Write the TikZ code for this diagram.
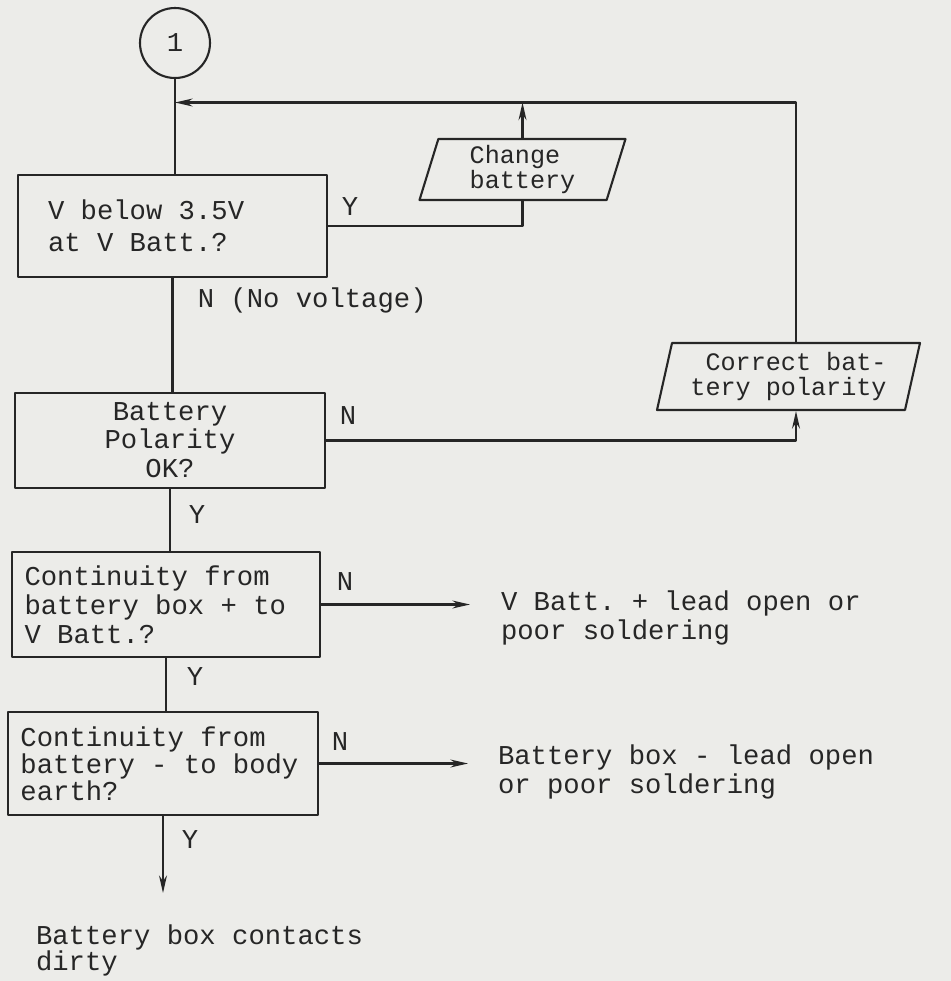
\documentclass[tikz,border=0pt]{standalone}
\usepackage{fontspec}
\setmonofont{Liberation Mono}
\usetikzlibrary{shapes.geometric,arrows.meta}
\definecolor{paper}{RGB}{236,236,233}
\definecolor{ink}{RGB}{38,38,38}

\begin{document}
\begin{tikzpicture}[x=1cm,y=1cm,line cap=round,line join=round,
  font=\ttfamily\fontsize{15.5}{17}\selectfont,line width=1.2pt,
  >={Stealth[length=10pt,width=4.5pt]},
  qbox/.style={draw=ink,rectangle,align=flush left,text=ink},
  iobox/.style={draw=ink,trapezium,trapezium stretches body,align=flush left,text=ink,inner sep=0pt,
    font=\ttfamily\fontsize{14.3}{14.6}\selectfont},
  lskip/.style={font=\ttfamily\fontsize{15.5}{#1}\selectfont},
  lbl/.style={text=ink,inner sep=1pt},
  outcome/.style={text=ink,align=flush left,anchor=west,inner sep=0pt}]
  \fill[paper] (0,0) rectangle (19.02,-19.62);
  \useasboundingbox (0,0) rectangle (19.02,-19.62);
  % connector and main decisions
  \node[draw=ink,circle,minimum size=1.40cm,inner sep=0pt,text=ink] (c1) at (3.50,-0.86) {1};
  \node[qbox,lskip=18.2pt,text width=4.98cm,inner xsep=0.60cm,minimum height=2.04cm]
    (q1) at (3.45,-4.52) {V below 3.5V\\at V Batt.?};
  \node[qbox,lskip=14pt,align=flush center,text width=5.50cm,inner xsep=0.35cm,minimum height=1.90cm]
    (q2) at (3.40,-8.81) {Battery\\Polarity\\[3pt]OK?};
  \node[qbox,lskip=16.5pt,text width=5.66cm,inner xsep=0.25cm,minimum height=2.10cm]
    (q3) at (3.32,-12.09) {Continuity from\\battery box + to\\V Batt.?};
  \node[qbox,lskip=14.2pt,text width=5.70cm,inner xsep=0.25cm,minimum height=2.06cm]
    (q4) at (3.26,-15.27) {Continuity from\\battery - to body\\earth?};
  % actions
  \node[iobox,trapezium left angle=69,trapezium right angle=111,
    minimum width=4.12cm,minimum height=1.22cm] (chg) at (10.45,-3.39) {Change\\battery};
  \node[iobox,align=flush right,trapezium left angle=73,trapezium right angle=107,
    minimum width=5.26cm,minimum height=1.34cm] (cor) at (15.77,-7.53) {Correct bat-\\tery polarity};
  % results
  \node[outcome,lskip=17pt] (r3) at (10.00,-12.36) {V Batt. + lead open or\\poor soldering};
  \node[outcome,lskip=17pt] (r4) at (9.94,-15.44) {Battery box - lead open\\or poor soldering};
  \node[outcome,lskip=14.8pt] (r5) at (0.70,-19.00) {Battery box contacts\\dirty};
  \coordinate (join) at (3.50,-2.05);
  \coordinate (rx) at (15.92,-2.05);
  \coordinate (tip3) at (9.40,-12.14);
  \coordinate (tip4) at (9.36,-15.36);
  \coordinate (tip5) at (3.26,-17.86);
  % labels
  \node[lbl] (y1) at (7.00,-4.14) {Y};
  \node[lbl,anchor=west] (nv) at (3.90,-6.00) {N (No voltage)};
  \node[lbl] (n2) at (6.96,-8.32) {N};
  \node[lbl] (y2) at (3.94,-10.30) {Y};
  \node[lbl] (n3) at (6.90,-11.64) {N};
  \node[lbl] (y3) at (3.90,-13.54) {Y};
  \node[lbl] (n4) at (6.80,-14.84) {N};
  \node[lbl] (y4) at (3.80,-16.80) {Y};
  % flow lines
  \draw[ink] (c1) -- (c1 |- q1.north);
  \draw[ink] (q1.south) -- (q1.south |- q2.north);
  \draw[ink] (q2.south) -- (q2.south |- q3.north);
  \draw[ink] (q3.south) -- (q3.south |- q4.north);
  \draw[ink,->] (q4.south) -- (q4.south |- tip5);
  \draw[ink] (q1.east) -| (chg.south);
  \draw[ink,->] (chg.north) -- (chg.north |- join);
  \draw[ink,->] (q2.east) -| (rx |- cor.south);
  \draw[ink,->] (rx |- cor.north) -- (rx) -- (join);
  \draw[ink,->] (q3.east) -- (q3.east -| tip3);
  \draw[ink,->] (q4.east) -- (q4.east -| tip4);
\end{tikzpicture}
\end{document}
